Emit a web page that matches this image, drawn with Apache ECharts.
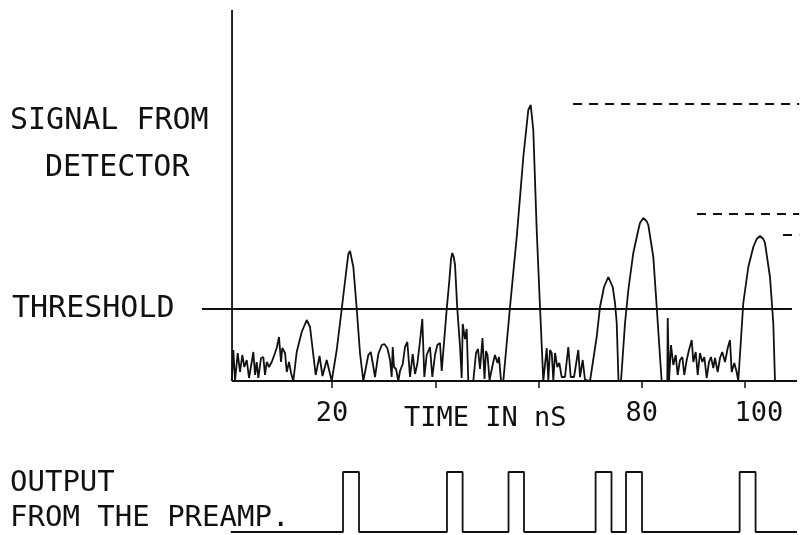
<!DOCTYPE html>
<html>
<head>
<meta charset="utf-8">
<script src="https://cdn.jsdelivr.net/npm/echarts@6/dist/echarts.min.js"></script>
<style>html,body{margin:0;padding:0;background:#fff;}#chart{width:801px;height:535px;}</style>
</head>
<body>
<div id="chart"></div>
<script>
// ---- data (time in nS, amplitude in arbitrary units) ----
const signalTime = [0.57,0.88,1.21,1.73,2.18,2.62,3.01,3.48,3.92,4.45,4.76,5.09,5.41,5.72,6.25,6.69,7.02,7.35,7.80,8.32,8.82,9.29,9.73,10.12,10.37,10.90,11.23,11.67,12.06,12.50,
  13.16,14.13,15.10,15.74,16.38,16.84,17.58,18.16,18.97,19.94,
  20.91,21.88,22.85,23.16,23.49,23.82,24.13,24.79,25.42,26.06,
  27.03,27.50,27.88,28.33,28.97,29.63,30.13,30.71,31.24,31.56,31.76,32.01,32.40,32.84,33.17,33.70,34.14,34.59,35.11,35.63,36.08,36.52,37.05,37.49,37.88,38.34,38.98,39.43,39.95,40.40,40.92,41.25,
  42.22,42.72,43.05,43.30,43.58,43.83,44.27,44.79,45.12,45.32,45.76,46.09,46.40,
  47.37,47.89,48.28,48.67,49.15,49.54,49.83,50.12,50.51,51.24,51.57,52.06,52.35,52.74,53.18,
  54.48,55.78,57.06,58.02,58.49,58.99,59.65,60.29,60.93,
  61.59,61.90,62.23,62.56,62.87,63.20,63.64,64.03,64.49,65.13,65.77,66.24,66.88,67.71,68.04,68.56,69.01,69.98,
  71.27,71.91,72.69,73.52,74.37,74.82,75.15,75.50,75.98,
  76.76,77.40,78.36,79.33,79.66,80.30,80.92,81.27,82.24,82.90,83.54,83.86,
  84.95,85.03,85.28,85.67,86.11,86.58,86.96,87.41,87.86,88.24,88.71,89.15,89.68,89.99,90.45,90.84,91.28,91.73,92.12,92.58,93.03,93.41,93.86,94.19,94.71,95.16,95.60,96.13,96.65,97.09,97.42,97.93,98.39,98.70,
  99.67,100.64,101.61,102.27,102.91,103.55,103.87,104.84,105.48,105.81,110.07];
const signalAmp = [0,31,0,28,9,26,14,21,3,19,29,6,19,3,23,24,6,19,14,19,26,33,44,19,33,28,9,19,8,0,
  29,49,61,54,26,6,25,5,21,0,
  31,72,114,127,130,128,114,72,28,0,
  26,29,18,4,27,36,37,33,21,4,34,14,12,0,10,17,34,39,4,27,7,17,40,62,4,26,34,4,26,36,38,10,
  72,100,122,128,124,116,72,35,3,57,42,52,0,
  0,28,32,12,43,2,30,26,1,19,26,18,24,0,0,
  74,144,224,271,276,251,151,74,0,
  33,1,31,28,1,28,14,18,4,4,34,4,4,31,4,21,1,0,
  44,74,94,104,94,78,58,0,0,
  58,91,128,151,158,163,160,156,124,74,24,0,
  0,63,0,36,16,26,6,21,24,6,21,31,41,19,29,6,28,19,24,3,19,24,13,23,9,23,29,19,33,41,9,18,9,0,
  78,114,134,142,145,142,138,104,58,0,0];

const thresholdLevel = 72;
const thresholdSpan = [-5.2, 109.1];
const axisTop = 371;
const axisStart = 0.63;
const axisEnd = 110.07;

const dashLevels = [277, 167, 146];
const dashStarts = [66.7, 90.7, 107.36];
const dashEnd = 110.5;

const pulseStart = [22.13, 42.27, 54.19, 71.06, 76.95, 98.96];
const pulseEnd   = [25.23, 45.30, 57.19, 74.14, 80.05, 102.05];
const pulseHigh = 1;
const pulseLineStart = 0.4;

const tickValues = [20, 40, 60, 80, 100];
const labelValues = [20, 80, 100];

// ---- build series data ----
const signalData = signalTime.map((t, i) => [t, signalAmp[i]]);
const pulseData = [[pulseLineStart, 0]];
pulseStart.forEach((s, i) => {
  pulseData.push([s, 0], [s, pulseHigh], [pulseEnd[i], pulseHigh], [pulseEnd[i], 0]);
});
pulseData.push([axisEnd, 0]);

const ink = '#111';
const FONT = 'DejaVu Sans Mono';
function plain(name, data, extra) {
  return Object.assign({
    name, type: 'line', data, symbol: 'none', clip: false, silent: true,
    lineStyle: { color: ink, width: 1.8 }
  }, extra || {});
}

const series = [
  plain('signal', signalData),
  plain('yaxis', [[axisStart, 0], [axisStart, axisTop]]),
  plain('baseline', [[axisStart, 0], [axisEnd, 0]]),
  plain('threshold', [[thresholdSpan[0], thresholdLevel], [thresholdSpan[1], thresholdLevel]]),
  plain('pulses', pulseData, { xAxisIndex: 1, yAxisIndex: 1 })
];
dashLevels.forEach((lv, i) => {
  series.push(plain('dash' + i, [[dashStarts[i], lv], [dashEnd, lv]], {
    lineStyle: { color: ink, width: 1.8, type: [9, 7] }
  }));
});

const xMin = -6, xMax = 110.5;
const chart = echarts.init(document.getElementById('chart'), null, { renderer: 'canvas' });
chart.setOption({
  animation: false,
  backgroundColor: '#fff',
  grid: [
    { left: 197.8, right: 1.8, top: 10, bottom: 154 },
    { left: 197.8, right: 1.8, top: 460, bottom: 3 }
  ],
  xAxis: [
    {
      type: 'value', gridIndex: 0, min: xMin, max: xMax,
      axisLine: { show: false }, splitLine: { show: false },
      axisTick: { show: true, customValues: tickValues, length: 7, lineStyle: { color: ink, width: 1.5 } },
      axisLabel: {
        show: true, customValues: labelValues, margin: 19,
        fontFamily: FONT, fontSize: 27, color: ink,
        formatter: v => (v === 100 ? '{r|100}' : String(v)),
        rich: { r: { fontFamily: FONT, fontSize: 27, color: ink, padding: [0, 0, 0, 28] } }
      }
    },
    { type: 'value', gridIndex: 1, min: xMin, max: xMax, show: false }
  ],
  yAxis: [
    { type: 'value', gridIndex: 0, min: 0, max: axisTop, show: false },
    { type: 'value', gridIndex: 1, min: 0, max: 1.2, show: false }
  ],
  graphic: [
    { type: 'text', left: 10, top: 106, style: { text: 'SIGNAL FROM', font: '30px "' + FONT + '"', fill: ink } },
    { type: 'text', left: 45, top: 153, style: { text: 'DETECTOR', font: '30px "' + FONT + '"', fill: ink } },
    { type: 'text', left: 12, top: 294, style: { text: 'THRESHOLD', font: '30px "' + FONT + '"', fill: ink } },
    { type: 'text', left: 404, top: 405, style: { text: 'TIME IN nS', font: '27px "' + FONT + '"', fill: ink } },
    { type: 'text', left: 10, top: 469, style: { text: 'OUTPUT', font: '29px "' + FONT + '"', fill: ink } },
    { type: 'text', left: 10, top: 504, style: { text: 'FROM THE PREAMP.', font: '29px "' + FONT + '"', fill: ink } }
  ],
  series
});
</script>
</body>
</html>
